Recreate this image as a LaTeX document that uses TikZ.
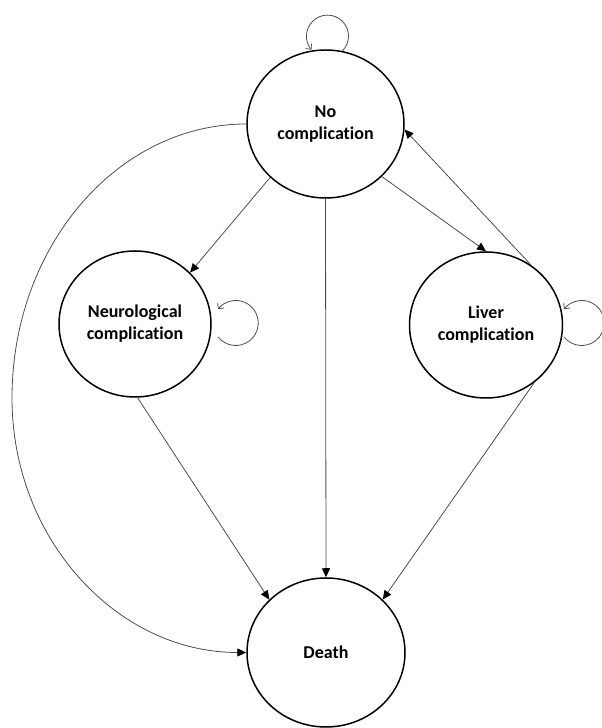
\documentclass[tikz,border=0pt]{standalone}
\usepackage{fontspec}
\setmainfont{Carlito}[Ligatures=NoCommon]
\usetikzlibrary{arrows.meta,shapes.geometric}
\definecolor{linegray}{HTML}{4D4D4D}
\begin{document}
\begin{tikzpicture}[x=1pt,y=1pt,
  state/.style={ellipse, draw=black, line width=1.5pt, fill=white, inner sep=0pt,
    align=center, font=\fontsize{18}{22}\selectfont\bfseries},
  conn/.style={draw=linegray, line width=0.8pt, -{Triangle[length=9pt,width=8pt,color=black]}},
  selfloop/.style={draw=linegray, line width=0.8pt, -{Straight Barb[length=4pt,width=8pt]}}]
\useasboundingbox (0,0) rectangle (602,728);

% states
\node[state, minimum width=157pt, minimum height=148pt] (nc) at (325.5,604) {No\\complication};
\node[state, minimum width=152pt, minimum height=146pt] (neuro) at (135,404) {Neurological\\complication};
\node[state, minimum width=153pt, minimum height=146pt] (liver) at (486,403) {Liver\\complication};
\node[state, minimum width=158pt, minimum height=149pt] (death) at (326,75.5) {Death};

% self transitions
\draw[selfloop] (nc.77) arc[start angle=-45, end angle=220, radius=21];
\coordinate (neuroloop) at ([xshift=24pt,yshift=1pt]neuro.east);
\draw[selfloop] (neuroloop) ++(-142:22.5) arc[start angle=-142, end angle=142, radius=22.5];
\coordinate (liverloop) at ([xshift=18.5pt,yshift=2pt]liver.east);
\draw[selfloop] (liverloop) ++(-142:22.5) arc[start angle=-142, end angle=142, radius=22.5];

% transitions between states
\draw[conn] (nc.224) -- (neuro.43);
\draw[conn] (nc.south) -- (death.north);
\draw[conn] (nc.-43) -- (liver.north);
\draw[conn] (liver.53) -- (nc.-4);
\draw[conn] (neuro.-88) -- (death.137);
\draw[conn] (liver.-50) -- (death.43);

% direct route to death round the left side
\coordinate (farleft) at (12,330);
\draw[conn] (nc.west) .. controls (117,604) and (12,481) .. (farleft)
  .. controls (12,189) and (117,75.5) .. (death.west);
\end{tikzpicture}
\end{document}
